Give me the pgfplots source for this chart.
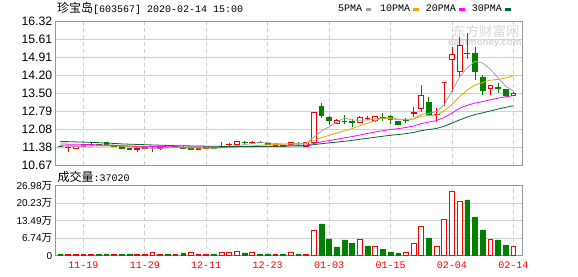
\documentclass[border=0pt]{standalone}
\usepackage{fontspec}
\setmainfont{Liberation Sans}
\newfontfamily\cjk{Noto Sans CJK SC}
\newfontfamily\mono{Liberation Mono}
\usepackage{pgfplots}
\pgfplotsset{compat=1.18}
\definecolor{kred}{RGB}{255,0,0}
\definecolor{kgreen}{RGB}{0,128,0}
\definecolor{ma5}{RGB}{160,160,160}
\definecolor{ma10}{RGB}{240,165,0}
\definecolor{ma20}{RGB}{255,0,255}
\definecolor{ma30}{RGB}{0,102,51}
\definecolor{gridc}{RGB}{208,208,208}
\definecolor{framec}{RGB}{150,150,150}
\definecolor{wm}{RGB}{215,215,215}
\tikzset{kg/.style={draw=kgreen, fill=kgreen, line width=0.9pt},
         kr/.style={draw=kred, fill=white, line width=0.9pt}}
\newcommand\cdl[6]{%
  \pgfmathsetmacro\xa{#1-0.31}\pgfmathsetmacro\xb{#1+0.31}%
  \addplot[#2, fill=none, mark=none] coordinates {(#1,#3)(#1,#6)};
  \addplot[#2, mark=none] coordinates {(\xa,#4)(\xb,#4)(\xb,#5)(\xa,#5)} -- cycle;}
\newcommand\wan{{\cjk\fontsize{10.5}{12}\selectfont 万}}
\pgfplotsset{kaxis/.style={scale only axis, width=466.5pt, xmin=-0.63, xmax=60.12,
  axis line style={draw=framec, line width=0.8pt}, major tick length=0pt, tick style={draw=none},
  xtick={3,11,19,27,35,43,51,59}, xmajorgrids, ymajorgrids,
  x grid style={draw=gridc, line width=0.8pt, dash pattern=on 4pt off 3pt},
  y grid style={draw=gridc, line width=0.8pt},
  yticklabel style={inner sep=0pt, anchor=east, xshift=-3.2pt, text=black}}}
\begin{document}
\begin{tikzpicture}
\useasboundingbox (0pt,0pt) rectangle (578pt,276pt);
% watermark
\node[anchor=west, inner sep=0pt, text=wm] at (452pt,244.3pt) {\cjk\fontsize{13.5}{14}\selectfont 东方财富网};
\node[anchor=west, inner sep=0pt, text=wm] at (448pt,232.7pt) {\bfseries\fontsize{9.8}{10}\selectfont eastmoney.com};
% title
\node[anchor=west, inner sep=0pt] at (57pt,267.7pt) {{\cjk\fontsize{12}{14}\selectfont 珍宝岛}{\mono\fontsize{10}{12}\selectfont [603567] 2020-02-14 15:00}};
% legend
\node[anchor=west, inner sep=0pt] at (338pt,267.5pt) {\mono\fontsize{10}{12}\selectfont 5PMA};
\fill[ma5] (365.7pt,265.3pt) rectangle (371pt,268.3pt);
\node[anchor=west, inner sep=0pt] at (380pt,267.5pt) {\mono\fontsize{10}{12}\selectfont 10PMA};
\fill[ma10] (413.3pt,265.3pt) rectangle (419pt,268.3pt);
\node[anchor=west, inner sep=0pt] at (425.7pt,267.5pt) {\mono\fontsize{10}{12}\selectfont 20PMA};
\fill[ma20] (459.3pt,265.3pt) rectangle (465pt,268.3pt);
\node[anchor=west, inner sep=0pt] at (471.7pt,267.5pt) {\mono\fontsize{10}{12}\selectfont 30PMA};
\fill[ma30] (505pt,265.3pt) rectangle (510.7pt,268.3pt);
% volume caption
\node[anchor=west, inner sep=0pt] at (57.5pt,99.3pt) {{\cjk\fontsize{12}{14}\selectfont 成交量}{\mono\fontsize{10}{12}\selectfont :37020}};

\begin{axis}[kaxis, at={(55.5pt,111pt)}, anchor=south west, height=143.5pt,
  ymin=10.67, ymax=16.32, xticklabels={},
  ytick={10.67,11.37625,12.0825,12.78875,13.495,14.20125,14.9075,15.61375,16.32},
  yticklabels={10.67,11.38,12.08,12.79,13.50,14.20,14.91,15.61,16.32},
  yticklabel style={font=\fontsize{12.2}{14}\selectfont}]
\cdl{0}{kg}{11.38}{11.40}{11.42}{11.44}
\cdl{1}{kr}{11.20}{11.37}{11.38}{11.40}
\cdl{2}{kr}{11.30}{11.31}{11.41}{11.42}
\cdl{3}{kr}{11.38}{11.41}{11.43}{11.45}
\cdl{4}{kr}{11.42}{11.46}{11.48}{11.58}
\cdl{5}{kg}{11.44}{11.47}{11.48}{11.50}
\cdl{6}{kg}{11.46}{11.48}{11.55}{11.57}
\cdl{7}{kg}{11.38}{11.40}{11.42}{11.44}
\cdl{8}{kg}{11.29}{11.31}{11.41}{11.42}
\cdl{9}{kg}{11.27}{11.30}{11.32}{11.33}
\cdl{10}{kr}{11.20}{11.30}{11.31}{11.37}
\cdl{11}{kr}{11.30}{11.33}{11.35}{11.36}
\cdl{12}{kr}{11.19}{11.33}{11.34}{11.36}
\cdl{13}{kr}{11.26}{11.34}{11.36}{11.38}
\cdl{14}{kg}{11.34}{11.36}{11.37}{11.39}
\cdl{15}{kr}{11.35}{11.37}{11.40}{11.42}
\cdl{16}{kg}{11.31}{11.34}{11.38}{11.40}
\cdl{17}{kg}{11.28}{11.29}{11.33}{11.34}
\cdl{18}{kr}{11.27}{11.30}{11.33}{11.35}
\cdl{19}{kr}{11.32}{11.34}{11.35}{11.36}
\cdl{20}{kg}{11.33}{11.34}{11.35}{11.37}
\cdl{21}{kr}{11.39}{11.40}{11.41}{11.57}
\cdl{22}{kr}{11.40}{11.47}{11.49}{11.53}
\cdl{23}{kr}{11.48}{11.49}{11.58}{11.58}
\cdl{24}{kg}{11.49}{11.55}{11.56}{11.62}
\cdl{25}{kr}{11.50}{11.54}{11.56}{11.60}
\cdl{26}{kg}{11.52}{11.56}{11.57}{11.63}
\cdl{27}{kg}{11.46}{11.48}{11.50}{11.52}
\cdl{28}{kr}{11.41}{11.42}{11.44}{11.45}
\cdl{29}{kr}{11.41}{11.42}{11.44}{11.45}
\cdl{30}{kr}{11.46}{11.46}{11.56}{11.57}
\cdl{31}{kg}{11.42}{11.52}{11.53}{11.59}
\cdl{32}{kr}{11.41}{11.41}{11.57}{11.57}
\cdl{33}{kr}{11.52}{11.55}{12.73}{12.73}
\cdl{34}{kg}{12.53}{12.63}{12.99}{13.10}
\cdl{35}{kg}{12.25}{12.44}{12.56}{12.60}
\cdl{36}{kr}{12.31}{12.31}{12.41}{12.49}
\cdl{37}{kg}{12.30}{12.38}{12.40}{12.63}
\cdl{38}{kg}{12.18}{12.36}{12.39}{12.47}
\cdl{39}{kr}{12.34}{12.34}{12.56}{12.60}
\cdl{40}{kr}{12.43}{12.50}{12.52}{12.60}
\cdl{41}{kr}{12.37}{12.41}{12.60}{12.60}
\cdl{42}{kg}{12.39}{12.52}{12.55}{12.71}
\cdl{43}{kg}{12.30}{12.47}{12.60}{12.65}
\cdl{44}{kg}{12.24}{12.28}{12.39}{12.39}
\cdl{45}{kg}{12.31}{12.43}{12.47}{12.51}
\cdl{46}{kr}{12.57}{12.70}{12.72}{12.94}
\cdl{47}{kr}{12.77}{12.89}{13.41}{13.82}
\cdl{48}{kg}{12.63}{12.67}{13.12}{13.34}
\cdl{49}{kr}{12.37}{12.65}{12.66}{12.90}
\cdl{50}{kr}{12.99}{13.93}{13.93}{13.93}
\cdl{51}{kr}{13.56}{14.83}{15.03}{15.33}
\cdl{52}{kr}{14.15}{14.34}{15.38}{15.72}
\cdl{53}{kr}{14.83}{15.07}{15.08}{15.88}
\cdl{54}{kg}{14.02}{14.34}{15.07}{15.33}
\cdl{55}{kg}{13.43}{13.60}{14.12}{14.21}
\cdl{56}{kr}{13.43}{13.69}{13.82}{13.82}
\cdl{57}{kg}{13.52}{13.69}{13.71}{13.91}
\cdl{58}{kg}{13.36}{13.39}{13.66}{13.66}
\cdl{59}{kr}{13.39}{13.39}{13.47}{13.56}
% moving averages
\addplot[ma5, line width=0.8pt, mark=none] coordinates {(0,11.43)(1,11.41)(2,11.40)(3,11.41)(4,11.42)(5,11.434)(6,11.454)(7,11.452)(8,11.428)(9,11.392)(10,11.36)(11,11.334)(12,11.322)(13,11.332)(14,11.344)(15,11.362)(16,11.36)(17,11.35)(18,11.344)(19,11.342)(20,11.33)(21,11.344)(22,11.384)(23,11.434)(24,11.474)(25,11.518)(26,11.548)(27,11.546)(28,11.518)(29,11.496)(30,11.496)(31,11.488)(32,11.506)(33,11.764)(34,12.002)(35,12.178)(36,12.356)(37,12.518)(38,12.444)(39,12.43)(40,12.446)(41,12.484)(42,12.512)(43,12.534)(44,12.478)(45,12.46)(46,12.484)(47,12.662)(48,12.702)(49,12.778)(50,13.05)(51,13.58)(52,14.15)(53,14.50)(54,14.75)(55,14.684)(56,14.442)(57,14.104)(58,13.768)(59,13.594)};
\addplot[ma10, line width=0.8pt, mark=none] coordinates {(0,11.44)(1,11.44)(2,11.43)(3,11.43)(4,11.43)(5,11.42)(6,11.42)(7,11.42)(8,11.41)(9,11.406)(10,11.397)(11,11.394)(12,11.387)(13,11.38)(14,11.368)(15,11.361)(16,11.347)(17,11.336)(18,11.338)(19,11.343)(20,11.346)(21,11.352)(22,11.367)(23,11.389)(24,11.408)(25,11.424)(26,11.446)(27,11.465)(28,11.476)(29,11.485)(30,11.507)(31,11.518)(32,11.526)(33,11.641)(34,11.749)(35,11.837)(36,11.922)(37,12.012)(38,12.104)(39,12.216)(40,12.312)(41,12.42)(42,12.515)(43,12.489)(44,12.454)(45,12.453)(46,12.484)(47,12.587)(48,12.618)(49,12.628)(50,12.80)(51,13.06)(52,13.36)(53,13.62)(54,13.82)(55,13.92)(56,14.01)(57,14.04)(58,14.10)(59,14.172)};
\addplot[ma20, line width=0.8pt, mark=none] coordinates {(0,11.50)(1,11.49)(2,11.49)(3,11.48)(4,11.47)(5,11.46)(6,11.45)(7,11.44)(8,11.43)(9,11.42)(10,11.41)(11,11.41)(12,11.40)(13,11.40)(14,11.39)(15,11.39)(16,11.38)(17,11.38)(18,11.375)(19,11.375)(20,11.372)(21,11.373)(22,11.377)(23,11.385)(24,11.388)(25,11.393)(26,11.397)(27,11.401)(28,11.407)(29,11.414)(30,11.427)(31,11.435)(32,11.447)(33,11.515)(34,11.579)(35,11.631)(36,11.684)(37,11.739)(38,11.79)(39,11.851)(40,11.910)(41,11.969)(42,12.021)(43,12.065)(44,12.102)(45,12.145)(46,12.203)(47,12.300)(48,12.361)(49,12.422)(50,12.541)(51,12.716)(52,12.907)(53,13.024)(54,13.109)(55,13.167)(56,13.238)(57,13.303)(58,13.355)(59,13.40)};
\addplot[ma30, line width=0.8pt, mark=none] coordinates {(0,11.59)(1,11.59)(2,11.58)(3,11.57)(4,11.56)(5,11.55)(6,11.53)(7,11.52)(8,11.50)(9,11.49)(10,11.48)(11,11.47)(12,11.46)(13,11.45)(14,11.44)(15,11.43)(16,11.43)(17,11.42)(18,11.42)(19,11.41)(20,11.41)(21,11.40)(22,11.40)(23,11.40)(24,11.40)(25,11.40)(26,11.40)(27,11.405)(28,11.41)(29,11.411)(30,11.417)(31,11.421)(32,11.427)(33,11.47)(34,11.508)(35,11.541)(36,11.572)(37,11.604)(38,11.639)(39,11.681)(40,11.722)(41,11.763)(42,11.803)(43,11.840)(44,11.870)(45,11.905)(46,11.951)(47,12.021)(48,12.066)(49,12.110)(50,12.196)(51,12.317)(52,12.446)(53,12.563)(54,12.656)(55,12.724)(56,12.799)(57,12.873)(58,12.938)(59,13.005)};
\end{axis}

\begin{axis}[kaxis, at={(55.5pt,20.2pt)}, anchor=south west, height=70.1pt,
  ymin=0, ymax=26.98,
  ytick={0,6.745,13.49,20.235,26.98},
  yticklabels={0,6.74\wan,13.49\wan,20.23\wan,26.98\wan},
  yticklabel style={font=\fontsize{10}{12}\selectfont},
  xticklabels={11-19,11-29,12-11,12-23,01-03,01-15,02-04,02-14},
  xticklabel style={font=\mono\fontsize{10}{12}\selectfont, text=kred, inner sep=0pt, anchor=north, yshift=-6pt}]
\addplot[ybar, bar width=0.62, bar shift=0pt, draw=kgreen, fill=kgreen, line width=0.6pt] coordinates {(0,0.6)(5,0.7)(6,0.7)(8,0.7)(9,0.7)(14,0.7)(16,1.1)(20,0.7)(24,1.1)(26,0.7)(27,0.7)(29,0.7)(31,0.7)(34,12.3)(35,6.5)(36,3.4)(37,6.1)(38,4.9)(40,3.8)(42,2.6)(43,1.5)(44,1.1)(48,6.9)(53,21.5)(54,15.0)(55,9.95)(57,6.1)(58,4.2)};
\addplot[ybar, bar width=0.62, bar shift=0pt, draw=kred, fill=white, line width=0.9pt] coordinates {(1,0.7)(2,0.7)(3,0.7)(4,0.7)(7,0.7)(10,0.7)(11,0.7)(12,1.1)(13,0.7)(15,0.7)(17,1.1)(18,0.7)(19,0.7)(21,1.3)(22,1.1)(23,1.5)(25,1.1)(28,0.7)(30,1.1)(32,0.7)(33,9.8)(39,6.3)(41,3.65)(45,1.1)(46,4.8)(47,11.4)(49,3.65)(50,14.1)(51,24.9)(52,21.0)(56,6.35)(59,3.702)};
\end{axis}
\end{tikzpicture}
\end{document}
